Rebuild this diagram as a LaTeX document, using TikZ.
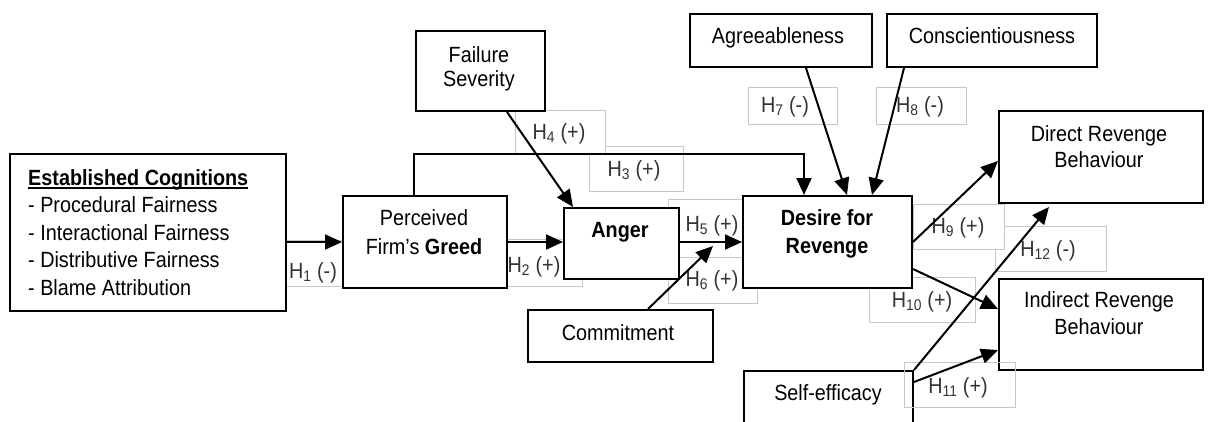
\documentclass[tikz,border=0pt]{standalone}
\usepackage{fontspec}
\setmainfont{Liberation Sans}[FakeStretch=0.9]
\usetikzlibrary{arrows.meta}
\newcommand\figfont{\fontsize{22}{27}\selectfont}
\begin{document}
\begin{tikzpicture}[x=1pt,y=-1pt,
  box/.style={draw=black, line width=2pt, fill=white, inner sep=0pt, anchor=north west},
  tag/.style={draw=black!22, line width=0.8pt},
  tagfill/.style={tag, fill=white},
  tx/.style={inner sep=0pt, anchor=base, font=\figfont},
  lab/.style={inner sep=0pt, anchor=base, font=\figfont, text=black!80},
  link/.style={line width=2pt, -{Triangle[length=17pt,width=15pt]}},
]
\useasboundingbox (0,0) rectangle (1215,421);

% hypothesis tag frames (lower layer)
\draw[tagfill] (995,226) rectangle (1106,271);  % H12
\draw[tagfill] (913,204) rectangle (1004,249);  % H9
\draw[tagfill] (589,146) rectangle (683,191);   % H3
\draw[tagfill] (515,110) rectangle (605,154);   % H4
\draw[tagfill] (285,240) rectangle (342,286);   % H1
\draw[tagfill] (506,239) rectangle (582,286);   % H2
\draw[tagfill] (668,199) rectangle (750,241);   % H5
\draw[tagfill] (668,257) rectangle (757,303);   % H6
\draw[tagfill] (748,87) rectangle (837,124);    % H7
\draw[tagfill] (876,87) rectangle (966,124);    % H8
\draw[tagfill] (869,277) rectangle (975,322);   % H10

% construct boxes
\node[box, minimum width=276pt, minimum height=157pt] (est)      at (9,153)   {};
\node[box, minimum width=164pt, minimum height=92pt]  (greed)    at (342,195) {};
\node[box, minimum width=115pt, minimum height=71pt]  (anger)    at (563,207) {};
\node[box, minimum width=129pt, minimum height=80pt]  (fail)     at (415,30)  {};
\node[box, minimum width=182pt, minimum height=53pt]  (agree)    at (689,13)  {};
\node[box, minimum width=210pt, minimum height=53pt]  (consc)    at (886,13)  {};
\node[box, minimum width=169pt, minimum height=92pt]  (desire)   at (742,195) {};
\node[box, minimum width=204pt, minimum height=92pt]  (direct)   at (998,110) {};
\node[box, minimum width=204pt, minimum height=91pt]  (indirect) at (998,278) {};
\node[box, minimum width=185pt, minimum height=52pt]  (commit)   at (527,309) {};
\node[box, minimum width=169pt, minimum height=95pt]  (self)     at (743,370) {};

\draw[tag] (904,362) rectangle (1015,407);   % H11

% box texts
\node[tx, anchor=base west] (estH) at (28,185) {\textbf{Established Cognitions}};
\draw[line width=1.2pt] ([yshift=-3pt]estH.base west) -- ([yshift=-3pt]estH.base east);
\node[tx, anchor=base west] (est1) at (28,212) {- Procedural Fairness};
\node[tx, anchor=base west] (est2) at (28,240) {- Interactional Fairness};
\node[tx, anchor=base west] (est3) at (28,267) {- Distributive Fairness};
\node[tx, anchor=base west] (est4) at (28,295) {- Blame Attribution};

\node[tx] (greed1) at (424,225) {Perceived};
\node[tx] (greed2) at (424,254) {Firm’s \textbf{Greed}};
\node[tx] (angerT) at (620,237) {\textbf{Anger}};
\node[tx] (fail1) at (479,62) {Failure};
\node[tx] (fail2) at (479,86) {Severity};
\node[tx] (agreeT) at (778,43) {Agreeableness};
\node[tx] (conscT) at (992,43) {Conscientiousness};
\node[tx] (desire1) at (827,225) {\textbf{Desire for}};
\node[tx] (desire2) at (827,253) {\textbf{Revenge}};
\node[tx] (direct1) at (1099,141) {Direct Revenge};
\node[tx] (direct2) at (1099,167) {Behaviour};
\node[tx] (indirect1) at (1099,307) {Indirect Revenge};
\node[tx] (indirect2) at (1099,334) {Behaviour};
\node[tx] (commitT) at (618,340) {Commitment};
\node[tx] (selfT) at (828,400) {Self-efficacy};

% hypothesis labels
\node[lab] (h1) at (313,278) {H\textsubscript{1} (-)};
\node[lab] (h2) at (534,272) {H\textsubscript{2} (+)};
\node[lab] (h3) at (634,176) {H\textsubscript{3} (+)};
\node[lab] (h4) at (559,139) {H\textsubscript{4} (+)};
\node[lab] (h5) at (712,231) {H\textsubscript{5} (+)};
\node[lab] (h6) at (712,286) {H\textsubscript{6} (+)};
\node[lab] (h7) at (785,112) {H\textsubscript{7} (-)};
\node[lab] (h8) at (920,112) {H\textsubscript{8} (-)};
\node[lab] (h9) at (958,233) {H\textsubscript{9} (+)};
\node[lab] (h10) at (922,307) {H\textsubscript{10} (+)};
\node[lab] (h11) at (958,393) {H\textsubscript{11} (+)};
\node[lab] (h12) at (1048,256) {H\textsubscript{12} (-)};

% paths
\coordinate (h3c) at (804,154);
\coordinate (h6tip) at (713,246);
\coordinate (h12tip) at (1049,207);

\draw[link] (est.east |- greed.west) -- (greed.west);
\draw[link] (greed.east) -- (greed.east -| anger.west);
\draw[link] ([xshift=-11pt]greed.north) |- (h3c) -- (h3c |- desire.north);
\draw[link] ([xshift=26.5pt]fail.south) -- ([xshift=-48.5pt]anger.north);
\draw[link] (anger.east |- desire.west) -- (desire.west);
\draw[link] ([xshift=27.5pt]commit.north) -- (h6tip);
\draw[link] ([xshift=25pt]agree.south) -- ([xshift=19.5pt]desire.north);
\draw[link] ([xshift=-88pt]consc.south) -- ([xshift=44.5pt]desire.north);
\draw[link] (desire.east) -- ([yshift=-4pt]direct.west);
\draw[link] ([yshift=-27pt]desire.east) -- ([yshift=15.5pt]indirect.west);
\draw[link] ([yshift=-12pt]self.north east) -- ([yshift=-25.5pt]indirect.west);
\draw[link] (self.north east) -- (h12tip);
\end{tikzpicture}
\end{document}
